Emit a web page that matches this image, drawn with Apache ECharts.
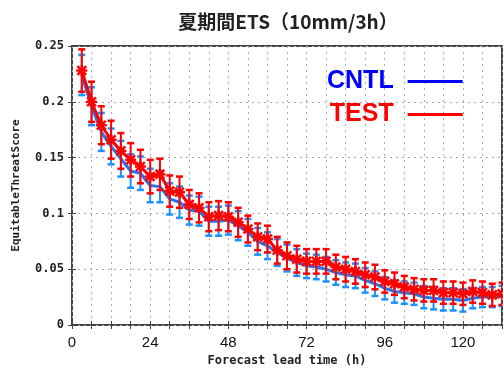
<!DOCTYPE html>
<html>
<head>
<meta charset="utf-8">
<script src="https://cdn.jsdelivr.net/npm/echarts@6/dist/echarts.min.js"></script>
<style>
  html, body { margin: 0; padding: 0; background: #fff; }
  #chart { width: 504px; height: 372px; }
</style>
</head>
<body>
<div id="chart"></div>
<script>
// Forecast lead time (h)
const leadHours = [3, 6, 9, 12, 15, 18, 21, 24, 27, 30, 33, 36, 39, 42, 45, 48, 51, 54, 57, 60,
  63, 66, 69, 72, 75, 78, 81, 84, 87, 90, 93, 96, 99, 102, 105, 108, 111, 114, 117, 120,
  123, 126, 129, 132];

// Equitable threat score, control run
const cntlScore = [0.224, 0.196, 0.173, 0.160, 0.149, 0.138, 0.136, 0.125, 0.124, 0.113,
  0.110, 0.103, 0.102, 0.093, 0.093, 0.094, 0.089, 0.083, 0.075, 0.071,
  0.065, 0.060, 0.056, 0.053, 0.052, 0.050, 0.047, 0.045, 0.044, 0.040,
  0.037, 0.033, 0.030, 0.029, 0.028, 0.025, 0.024, 0.023, 0.023, 0.022,
  0.024, 0.025, 0.025, 0.026];

// Equitable threat score, test run
const testScore = [0.228, 0.200, 0.179, 0.166, 0.156, 0.148, 0.142, 0.133, 0.135, 0.120,
  0.119, 0.108, 0.105, 0.097, 0.098, 0.097, 0.092, 0.086, 0.079, 0.077,
  0.067, 0.062, 0.059, 0.057, 0.057, 0.057, 0.052, 0.050, 0.048, 0.045,
  0.043, 0.039, 0.037, 0.034, 0.032, 0.031, 0.031, 0.029, 0.029, 0.028,
  0.030, 0.029, 0.027, 0.028];

// Half-width of the confidence interval for each score
const cntlErr = [0.018, 0.017, 0.017, 0.016, 0.016, 0.015, 0.015, 0.015, 0.014, 0.014,
  0.014, 0.013, 0.013, 0.013, 0.013, 0.013, 0.013, 0.012, 0.012, 0.012,
  0.012, 0.012, 0.012, 0.011, 0.011, 0.011, 0.011, 0.011, 0.011, 0.011,
  0.011, 0.010, 0.010, 0.010, 0.010, 0.010, 0.010, 0.010, 0.010, 0.010,
  0.009, 0.009, 0.009, 0.009];
const testErr = [0.019, 0.018, 0.017, 0.017, 0.016, 0.015, 0.015, 0.015, 0.014, 0.014,
  0.014, 0.013, 0.013, 0.013, 0.013, 0.013, 0.013, 0.012, 0.012, 0.012,
  0.012, 0.012, 0.012, 0.011, 0.011, 0.011, 0.011, 0.011, 0.011, 0.011,
  0.011, 0.010, 0.010, 0.010, 0.010, 0.010, 0.010, 0.010, 0.010, 0.010,
  0.010, 0.010, 0.010, 0.010];

// Axis settings
const xMax = 132;
const xStep = 6;
const xLabelEvery = 24;
const yMax = 0.25;
const yStep = 0.05;

const monoFont = '"DejaVu Sans Mono", "Liberation Mono", monospace';
const frameColor = '#444';
const gridColor = '#aaa';

const cntlLine = '#1e78f0';
const cntlBar = '#1e90ff';
const testColor = '#ff0000';

function pairs(values) {
  return leadHours.map((h, i) => [h, values[i]]);
}
function errRows(values, errs) {
  return leadHours.map((h, i) => [h, values[i] - errs[i], values[i] + errs[i], values[i]]);
}

// Vertical error bar with end caps; the test run also gets an asterisk marker
function makeErrorRenderer(color, withStar) {
  return function (params, api) {
    const x = api.value(0);
    const pLo = api.coord([x, api.value(1)]);
    const pHi = api.coord([x, api.value(2)]);
    const pC = api.coord([x, api.value(3)]);
    const cap = 3.5;
    const style = { stroke: color, lineWidth: 2 };
    const children = [
      { type: 'line', shape: { x1: pLo[0], y1: pLo[1], x2: pHi[0], y2: pHi[1] }, style },
      { type: 'line', shape: { x1: pLo[0] - cap, y1: pLo[1], x2: pLo[0] + cap, y2: pLo[1] }, style: { stroke: color, lineWidth: 2.5 } },
      { type: 'line', shape: { x1: pHi[0] - cap, y1: pHi[1], x2: pHi[0] + cap, y2: pHi[1] }, style: { stroke: color, lineWidth: 2.5 } }
    ];
    if (withStar) {
      const r = 5.5;
      const d = r * 0.8;
      const s = { stroke: color, lineWidth: 2.5 };
      children.push(
        { type: 'line', shape: { x1: pC[0] - r, y1: pC[1], x2: pC[0] + r, y2: pC[1] }, style: s },
        { type: 'line', shape: { x1: pC[0] - d, y1: pC[1] - d, x2: pC[0] + d, y2: pC[1] + d }, style: s },
        { type: 'line', shape: { x1: pC[0] - d, y1: pC[1] + d, x2: pC[0] + d, y2: pC[1] - d }, style: s },
        { type: 'line', shape: { x1: pC[0], y1: pC[1] - r, x2: pC[0], y2: pC[1] + r }, style: s }
      );
    }
    return { type: 'group', children };
  };
}

const chart = echarts.init(document.getElementById('chart'), null, { renderer: 'canvas' });

const hiddenAxisCommon = {
  type: 'value',
  axisLine: { show: false },
  axisLabel: { show: false },
  splitLine: { show: false },
  axisTick: { show: true, inside: true, length: 4, lineStyle: { color: frameColor, width: 1 } }
};

chart.setOption({
  animation: false,
  title: {
    text: '夏期間ETS（10mm/3h）',
    left: 283,
    textAlign: 'center',
    top: 7,
    textStyle: {
      fontFamily: '"Noto Sans CJK JP", sans-serif',
      fontWeight: 'bold',
      fontSize: 19,
      color: '#222'
    }
  },
  legend: {
    orient: 'vertical',
    left: 322,
    top: 64,
    align: 'right',
    itemGap: 8,
    itemWidth: 55,
    itemHeight: 3,
    icon: 'rect',
    selectedMode: false,
    textStyle: {
      fontFamily: '"Liberation Sans", Arial, sans-serif',
      fontWeight: 'bold',
      fontSize: 25,
      padding: [0, 9, 0, 0]
    },
    data: [
      { name: 'CNTL', itemStyle: { color: '#0000ff' }, textStyle: { color: '#0000ff' } },
      { name: 'TEST', itemStyle: { color: '#ff0000' }, textStyle: { color: '#ff0000' } }
    ]
  },
  grid: {
    left: 72,
    top: 46,
    right: 2,
    bottom: 46,
    show: true,
    borderColor: frameColor,
    borderWidth: 2,
    backgroundColor: '#fff'
  },
  xAxis: [
    {
      type: 'value',
      min: 0,
      max: xMax,
      interval: xStep,
      name: 'Forecast lead time (h)',
      nameLocation: 'middle',
      nameGap: 30,
      nameTextStyle: { fontFamily: monoFont, fontWeight: 'bold', fontSize: 12, color: '#222' },
      axisLine: { show: false },
      axisTick: { show: true, inside: true, length: 4, lineStyle: { color: frameColor, width: 1 } },
      axisLabel: {
        show: true,
        margin: 10,
        fontFamily: '"Liberation Sans", Arial, sans-serif',
        fontSize: 15,
        color: '#111',
        showMaxLabel: false,
        formatter: v => (v % xLabelEvery === 0 ? String(v) : '')
      },
      splitLine: { show: true, lineStyle: { color: gridColor, type: [2, 4], width: 1 } }
    },
    Object.assign({}, hiddenAxisCommon, { position: 'top', min: 0, max: xMax, interval: xStep })
  ],
  yAxis: [
    {
      type: 'value',
      min: 0,
      max: yMax,
      interval: yStep,
      name: 'EquitableThreatScore',
      nameLocation: 'middle',
      nameRotate: 90,
      nameGap: 50,
      nameTextStyle: { fontFamily: monoFont, fontWeight: 'bold', fontSize: 11, color: '#222' },
      axisLine: { show: false },
      axisTick: { show: true, inside: true, length: 4, lineStyle: { color: frameColor, width: 1 } },
      axisLabel: {
        margin: 8,
        fontFamily: monoFont,
        fontWeight: 'bold',
        fontSize: 12,
        color: '#222'
      },
      splitLine: { show: true, lineStyle: { color: gridColor, type: [2, 4], width: 1 } }
    },
    Object.assign({}, hiddenAxisCommon, { position: 'right', min: 0, max: yMax, interval: yStep })
  ],
  series: [
    {
      name: 'CNTL',
      type: 'line',
      data: pairs(cntlScore),
      symbol: 'none',
      lineStyle: { color: cntlLine, width: 3 },
      itemStyle: { color: cntlLine },
      z: 2
    },
    {
      name: 'CNTL',
      type: 'custom',
      data: errRows(cntlScore, cntlErr),
      renderItem: makeErrorRenderer(cntlBar, false),
      encode: { x: 0, y: [1, 2] },
      clip: true,
      z: 3
    },
    {
      name: 'TEST',
      type: 'line',
      data: pairs(testScore),
      symbol: 'none',
      lineStyle: { color: testColor, width: 3 },
      itemStyle: { color: testColor },
      z: 4
    },
    {
      name: 'TEST',
      type: 'custom',
      data: errRows(testScore, testErr),
      renderItem: makeErrorRenderer(testColor, true),
      encode: { x: 0, y: [1, 2] },
      clip: true,
      z: 5
    }
  ]
});
</script>
</body>
</html>
